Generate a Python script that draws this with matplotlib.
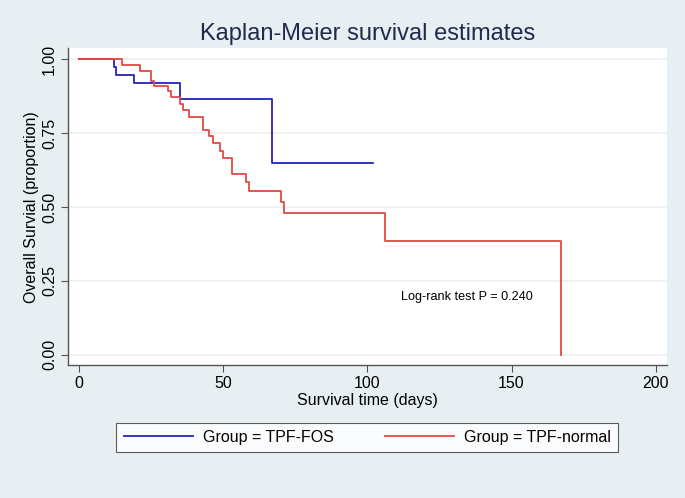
import matplotlib
matplotlib.use("Agg")
import matplotlib.pyplot as plt

# step points (time in days, survival proportion after the step)
fos_time = [0, 12, 13, 19, 35, 67, 102]
fos_surv = [1.0, 0.973, 0.946, 0.918, 0.867, 0.648, 0.648]

normal_time = [0, 15, 21, 25, 26, 31, 32, 35, 36, 38, 43, 45, 46.5, 49, 50,
               53, 58, 59, 70, 71, 106, 167, 167]
normal_surv = [1.0, 0.982, 0.959, 0.926, 0.909, 0.892, 0.873, 0.848, 0.828,
               0.806, 0.760, 0.739, 0.715, 0.690, 0.665, 0.611, 0.585, 0.555,
               0.517, 0.481, 0.385, 0.385, 0.0]

xticks = [0, 50, 100, 150, 200]
yticks = [0, 0.25, 0.5, 0.75, 1.0]
ylabels = ["0.00", "0.25", "0.50", "0.75", "1.00"]

bg = "#e8eff2"
plt.rcParams['font.family'] = ['Liberation Sans', 'DejaVu Sans']

fig = plt.figure(figsize=(6.85, 4.98), dpi=100, facecolor=bg)
ax = fig.add_axes([0.0997, 0.267, 0.8736, 0.636])
ax.set_facecolor("white")

ax.step(fos_time, fos_surv, where="post", color="#2424b8", lw=1.3,
        label="Group = TPF-FOS")
ax.step(normal_time, normal_surv, where="post", color="#e34a41", lw=1.3,
        label="Group = TPF-normal")

ax.set_xlim(-3.7, 203.8)
ax.set_ylim(-0.035, 1.037)
ax.set_xticks(xticks)
ax.set_yticks(yticks)
ax.set_yticklabels(ylabels, rotation=90, va="center")
ax.tick_params(labelsize=11.5, color="#555555", length=5, pad=3)
ax.grid(axis="y", color="#eceff1", lw=1.2)
ax.set_axisbelow(True)
for s in ["top", "right"]:
    ax.spines[s].set_visible(False)
for s in ["left", "bottom"]:
    ax.spines[s].set_color("#555555")
    ax.spines[s].set_linewidth(1.0)

ax.set_xlabel("Survival time (days)", fontsize=11.5, labelpad=1)
ax.set_ylabel("Overall Survial (proportion)", fontsize=11.5, labelpad=2)
fig.text(0.536, 0.932, "Kaplan-Meier survival estimates", ha="center",
         va="center", fontsize=17, color="#1f2a4d")
ax.text(134.6, 0.196, "Log-rank test P = 0.240", fontsize=9.1, ha="center",
        va="center")

leg = fig.legend(loc="center", bbox_to_anchor=(0.536, 0.1215), ncol=2,
                 frameon=True, fancybox=False, fontsize=11.5,
                 handlelength=4.35, handletextpad=0.6, columnspacing=3.2,
                 edgecolor="#333333", borderpad=0.45)
leg.get_frame().set_linewidth(0.8)

fig.savefig("out.png", dpi=100, facecolor=bg)
